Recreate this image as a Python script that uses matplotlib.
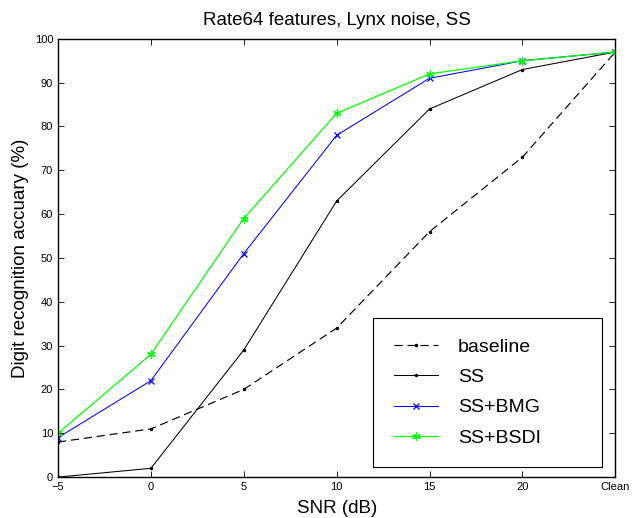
import matplotlib.pyplot as plt

plt.rcParams['font.family'] = ['Liberation Sans', 'DejaVu Sans']

snr_pos = [-5, 0, 5, 10, 15, 20, 25]
snr_labels = ['\u22125', '0', '5', '10', '15', '20', 'Clean']

baseline = [8, 11, 20, 34, 56, 73, 97]
ss = [0, 2, 29, 63, 84, 93, 97]
ss_bmg = [9, 22, 51, 78, 91, 95, 97]
ss_bsdi = [10, 28, 59, 83, 92, 95, 97]

fig = plt.figure(figsize=(6.34, 5.18), dpi=100)
ax = fig.add_axes([0.0915, 0.079, 0.879, 0.846])

ax.plot(snr_pos, baseline, color='black', linestyle=(0, (7, 4)), linewidth=0.85,
        marker='.', markersize=3, label='baseline')
ax.plot(snr_pos, ss, color='black', linewidth=0.75, marker='.', markersize=3, label='SS')
ax.plot(snr_pos, ss_bmg, color='blue', linewidth=0.75, marker='x', markersize=4,
        markeredgewidth=0.9, label='SS+BMG')
ax.plot(snr_pos, ss_bsdi, color='#00ff00', linewidth=0.9, marker=(6, 2, 0), markersize=6,
        markeredgewidth=0.9, label='SS+BSDI')

ax.set_xlim(-5, 25)
ax.set_ylim(0, 100)
ax.set_xticks(snr_pos)
ax.set_xticklabels(snr_labels)
ax.set_yticks(range(0, 101, 10))
ax.tick_params(direction='in', top=True, right=True, labelsize=8, length=4, width=0.6)
for s in ax.spines.values():
    s.set_linewidth(1.0)

ax.set_xlabel('SNR (dB)', fontsize=13.5, labelpad=6)
ax.set_ylabel('Digit recognition accuary (%)', fontsize=13.5, labelpad=4)
ax.set_title('Rate64 features, Lynx noise, SS', fontsize=13.5, pad=10)

# legend box stretched to the reference width
leg = ax.legend(loc='lower left', bbox_to_anchor=(0.5655, 0.0228, 0.4112, 0.345),
                mode='expand', borderaxespad=0, fontsize=14, fancybox=False,
                edgecolor='black', borderpad=1.05, labelspacing=0.65,
                handlelength=2.3, handletextpad=1.0, framealpha=1)
leg.get_frame().set_linewidth(0.8)

fig.savefig('out.png', dpi=100)
